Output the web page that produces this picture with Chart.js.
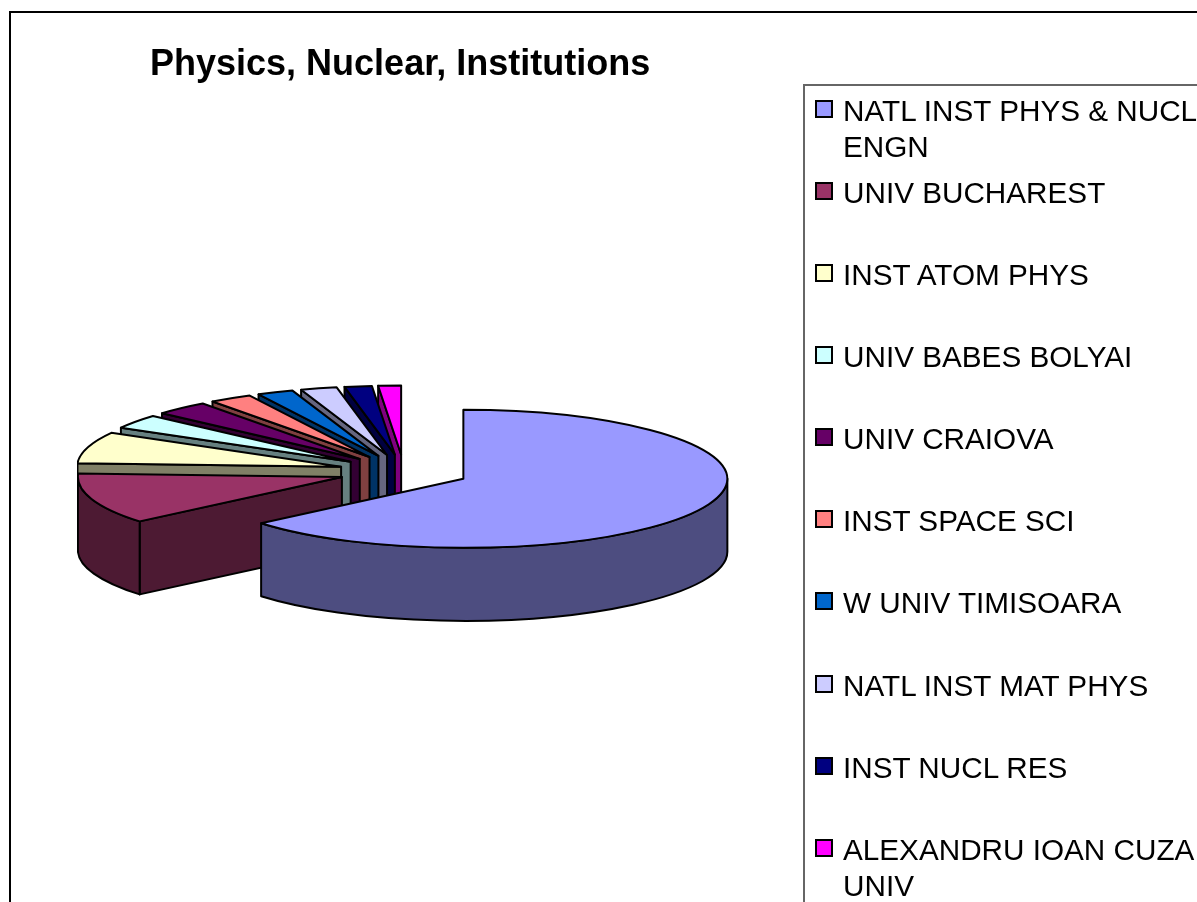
<!DOCTYPE html>
<html>
<head>
<meta charset="utf-8">
<title>Physics, Nuclear, Institutions</title>
<script src="https://cdn.jsdelivr.net/npm/chart.js@4/dist/chart.umd.min.js"></script>
<style>
  html, body { margin: 0; background: #fff; overflow: hidden; }
  #wrap { position: relative; width: 1197px; height: 902px; overflow: hidden; }
  canvas { display: block; }
  #legend {
    position: absolute; left: 803px; top: 84px; width: 420px; height: 860px;
    border: 2px solid #666; box-sizing: border-box;
    font: 29.7px "Liberation Sans", Arial, sans-serif; color: #000;
  }
  #legend .item { position: absolute; left: 38px; width: 358px; line-height: 36px; }
  #legend .box {
    position: absolute; left: -28px; top: 7px; width: 18px; height: 18px;
    border: 2px solid #000; box-sizing: border-box;
  }
</style>
</head>
<body>
<div id="wrap">
  <canvas id="pieChart" width="1197" height="902"></canvas>
  <div id="legend"></div>
</div>
<script>
const titleText = "Physics, Nuclear, Institutions";
const categories = [
  "NATL INST PHYS & NUCL ENGN",
  "UNIV BUCHAREST",
  "INST ATOM PHYS",
  "UNIV BABES BOLYAI",
  "UNIV CRAIOVA",
  "INST SPACE SCI",
  "W UNIV TIMISOARA",
  "NATL INST MAT PHYS",
  "INST NUCL RES",
  "ALEXANDRU IOAN CUZA UNIV",
];
const values = [460, 86, 53, 24, 24, 19, 16, 16, 12, 10];
const topColors = ["#9999ff", "#993366", "#ffffcc", "#ccffff", "#660066", "#ff8080", "#0066cc", "#ccccff", "#000080", "#ff00ff"];
const wallColors = ["#4d4d80", "#4d1a33", "#808066", "#668080", "#330033", "#804040", "#003366", "#666680", "#000040", "#800080"];
const legendTops = [7, 89, 171, 253, 335, 417, 499, 582, 664, 746];

// 3d look: tilt of the ellipse, wall height, how far slices are pulled out
const tilt = 0.2614;
const depth = 73;
const explode = 65.5;

function drawSlice(ctx, arc, top, wall) {
  const a0 = arc.startAngle;
  const a1 = arc.endAngle;
  const mid = (a0 + a1) / 2;
  const R = arc.outerRadius;
  const ax = arc.x + Math.cos(mid) * explode;
  const ay = arc.y + Math.sin(mid) * explode * tilt;
  const rimX = (a) => ax + Math.cos(a) * R;
  const rimY = (a) => ay + Math.sin(a) * R * tilt;

  const face = (a) => {
    ctx.beginPath();
    ctx.moveTo(ax, ay);
    ctx.lineTo(rimX(a), rimY(a));
    ctx.lineTo(rimX(a), rimY(a) + depth);
    ctx.lineTo(ax, ay + depth);
    ctx.closePath();
    ctx.fillStyle = wall;
    ctx.fill();
    ctx.stroke();
  };
  if (Math.cos(a1) > 1e-6) face(a1);
  if (Math.cos(a0) < -1e-6) face(a0);

  // rim wall, only the front half of the ellipse shows
  const s = Math.max(a0, 0);
  const e = Math.min(a1, Math.PI);
  if (e > s) {
    ctx.beginPath();
    ctx.ellipse(ax, ay, R, R * tilt, 0, s, e);
    ctx.lineTo(rimX(e), rimY(e) + depth);
    ctx.ellipse(ax, ay + depth, R, R * tilt, 0, e, s, true);
    ctx.closePath();
    ctx.fillStyle = wall;
    ctx.fill();
    ctx.stroke();
  }

  ctx.beginPath();
  ctx.moveTo(ax, ay);
  ctx.ellipse(ax, ay, R, R * tilt, 0, a0, a1);
  ctx.closePath();
  ctx.fillStyle = top;
  ctx.fill();
  ctx.stroke();
}

const pie3d = {
  id: "pie3d",
  beforeDraw(chart) {
    const ctx = chart.ctx;
    ctx.save();
    ctx.strokeStyle = "#000";
    ctx.lineWidth = 2;
    ctx.strokeRect(10, 12, 1400, 1100);
    ctx.restore();
  },
  beforeDatasetDraw(chart, args) {
    const ctx = chart.ctx;
    const arcs = args.meta.data;
    ctx.save();
    ctx.strokeStyle = "#000";
    ctx.lineWidth = 2;
    ctx.lineJoin = "round";
    // nothing may poke out left of the second slice's wall
    const second = arcs[1];
    const secondMid = (second.startAngle + second.endAngle) / 2;
    const leftEdge = second.x + Math.cos(secondMid) * explode - second.outerRadius - 1;
    ctx.beginPath();
    ctx.rect(leftEdge, 0, chart.width, chart.height);
    ctx.clip();
    // back to front, the big slice sits in front of all others
    for (let i = arcs.length - 1; i >= 0; i--) {
      drawSlice(ctx, arcs[i], topColors[i], wallColors[i]);
    }
    ctx.restore();
    return false;
  },
};

new Chart(document.getElementById("pieChart"), {
  type: "pie",
  plugins: [pie3d],
  data: {
    labels: categories,
    datasets: [
      {
        data: values,
        backgroundColor: topColors,
        borderWidth: 0,
        radius: 264,
        clip: false,
      },
    ],
  },
  options: {
    responsive: false,
    animation: false,
    events: [],
    layout: {
      padding: { left: 150, right: 539, top: 43, bottom: 55 },
    },
    plugins: {
      legend: { display: false },
      tooltip: { enabled: false },
      title: {
        display: true,
        text: titleText,
        align: "start",
        color: "#000",
        font: { family: "'Liberation Sans', Arial, sans-serif", size: 36, weight: "bold" },
        padding: { top: 0, bottom: 10 },
      },
    },
  },
});

const legend = document.getElementById("legend");
categories.forEach((name, i) => {
  const item = document.createElement("div");
  item.className = "item";
  item.style.top = legendTops[i] + "px";
  item.textContent = name;
  const box = document.createElement("span");
  box.className = "box";
  box.style.background = topColors[i];
  item.appendChild(box);
  legend.appendChild(item);
});
</script>
</body>
</html>
